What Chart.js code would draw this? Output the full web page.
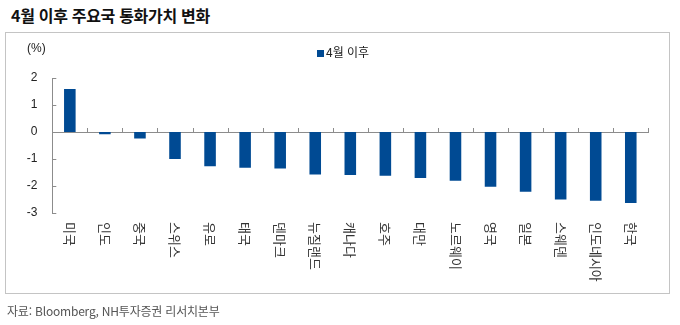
<!DOCTYPE html>
<html lang="ko">
<head>
  <meta charset="UTF-8">
  <title>4월 이후 주요국 통화가치 변화</title>
  <script src="https://cdn.jsdelivr.net/npm/chart.js"></script>
  <style>
    body {
      margin: 0;
      width: 680px;
      height: 325px;
      position: relative;
      background: #ffffff;
      font-family: "Noto Sans CJK KR", "Noto Sans", sans-serif;
      overflow: hidden;
    }
    .title {
      position: absolute;
      left: 11px;
      top: 3px;
      font-size: 16px;
      font-weight: bold;
      color: #111;
      letter-spacing: -0.3px;
    }
    .box {
      position: absolute;
      left: 5px;
      top: 32px;
      width: 665px;
      height: 262px;
      border: 1px solid #c4c4c4;
      box-sizing: border-box;
    }
    .unit {
      position: absolute;
      left: 27px;
      top: 41px;
      font-family: "Liberation Sans", Arial, sans-serif;
      font-size: 12px;
      color: #222;
    }
    .legend {
      position: absolute;
      left: 317px;
      top: 43px;
      font-size: 12px;
      color: #222;
    }
    .legend span {
      display: inline-block;
      width: 7px;
      height: 7px;
      background: #004a93;
      margin-right: 2px;
    }
    .source {
      position: absolute;
      left: 7px;
      top: 302px;
      font-size: 12px;
      color: #555;
      letter-spacing: -0.2px;
    }
    canvas {
      position: absolute;
      left: 0;
      top: 0;
    }
  </style>
</head>
<body>
  <div class="title">4월 이후 주요국 통화가치 변화</div>
  <div class="box"></div>
  <canvas id="barChart" width="680" height="325"></canvas>
  <div class="unit">(%)</div>
  <div class="legend"><span></span>4월 이후</div>
  <div class="source">자료: Bloomberg, NH투자증권 리서치본부</div>

  <script>
    const countries = ['미국', '인도', '중국', '스위스', '유로', '태국', '덴마크', '뉴질랜드', '캐나다',
                       '호주', '대만', '노르웨이', '영국', '일본', '스웨덴', '인도네시아', '한국'];
    const changes = [1.59, -0.08, -0.24, -1.0, -1.27, -1.32, -1.35, -1.57, -1.59,
                     -1.62, -1.7, -1.81, -2.03, -2.21, -2.5, -2.55, -2.63];
    const yTicks = [2, 1, 0, -1, -2, -3];

    const axisColor = '#8c8c8c';
    const barColor = '#004a93';

    // 축 눈금(안쪽) + 세로 카테고리 라벨
    const axisDecor = {
      id: 'axisDecor',
      afterDraw(chart) {
        const ctx = chart.ctx;
        const x = chart.scales.x;
        const y = chart.scales.y;
        const zero = y.getPixelForValue(0);
        const step = x.getPixelForTick(1) - x.getPixelForTick(0);
        ctx.save();
        ctx.strokeStyle = axisColor;
        ctx.lineWidth = 1;
        ctx.beginPath();
        for (let i = 0; i <= countries.length; i++) {
          const px = Math.round(x.getPixelForTick(0) - step / 2 + i * step) + 0.5;
          ctx.moveTo(px, zero - 4);
          ctx.lineTo(px, zero);
        }
        yTicks.forEach(v => {
          const py = Math.round(y.getPixelForValue(v)) + 0.5;
          ctx.moveTo(y.right, py);
          ctx.lineTo(y.right + 4, py);
        });
        ctx.stroke();

        ctx.fillStyle = '#333';
        ctx.font = '13px "Noto Sans CJK KR"';
        ctx.textAlign = 'left';
        ctx.textBaseline = 'middle';
        countries.forEach((c, i) => {
          ctx.save();
          ctx.translate(x.getPixelForTick(i), 222);
          ctx.rotate(Math.PI / 2);
          ctx.fillText(c, 0, 0);
          ctx.restore();
        });
        ctx.restore();
      }
    };

    new Chart(document.getElementById('barChart'), {
      type: 'bar',
      data: {
        labels: countries,
        datasets: [{
          label: '4월 이후',
          data: changes,
          backgroundColor: barColor,
          barPercentage: 0.33,
          categoryPercentage: 1
        }]
      },
      options: {
        responsive: false,
        animation: false,
        layout: {
          padding: { left: 12, right: 31.7, top: 78, bottom: 112 }
        },
        plugins: {
          legend: { display: false },
          tooltip: { enabled: false }
        },
        scales: {
          x: {
            position: { y: 0 },
            grid: { display: false },
            border: { color: axisColor },
            ticks: { display: false }
          },
          y: {
            min: -3,
            max: 2,
            afterFit: s => { s.width = 40.3; },
            afterBuildTicks: s => { s.ticks = yTicks.map(v => ({ value: v })); },
            grid: { display: false, drawTicks: false },
            border: { color: axisColor },
            ticks: {
              padding: 15,
              color: '#222',
              font: { family: '"Liberation Sans", Arial, sans-serif', size: 12 }
            }
          }
        }
      },
      plugins: [axisDecor]
    });
  </script>
</body>
</html>
